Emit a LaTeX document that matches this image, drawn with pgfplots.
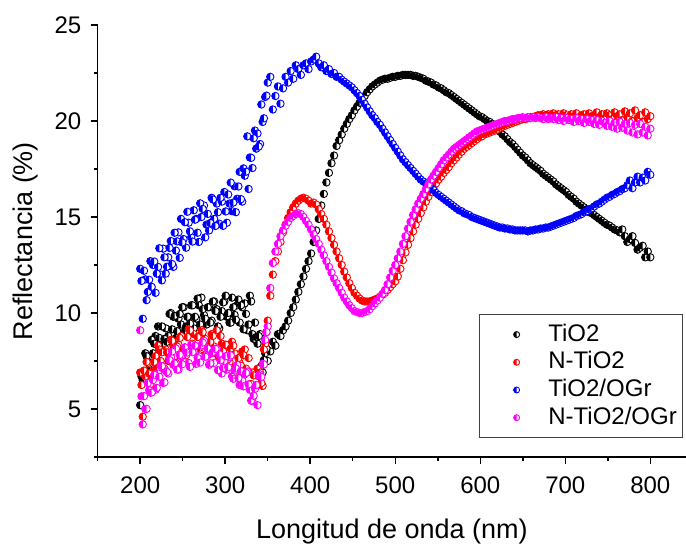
\documentclass[border=0pt]{standalone}
\usepackage{fontspec}
\setmainfont{Liberation Sans}
\usepackage{pgfplots}
\pgfplotsset{compat=1.18}
\usepackage{pgfplotstable}

\pgfdeclareplotmark{lhc}{%
  \begin{pgfscope}%
  \pgfsetfillcolor{white}%
  \pgfpathcircle{\pgfpointorigin}{\pgfplotmarksize}%
  \pgfusepathqfill
  \end{pgfscope}%
  \pgfpathmoveto{\pgfqpoint{0pt}{\pgfplotmarksize}}%
  \pgfpatharc{90}{270}{\pgfplotmarksize}%
  \pgfpathclose
  \pgfusepathqfill
  \pgfpathcircle{\pgfpointorigin}{\pgfplotmarksize}%
  \pgfusepathqstroke
}

\pgfplotstableread{
x a b c d
200 5.2 6.9 12.3 9.1
203 6.5 4.6 9.7 4.2
206 7.9 6.7 11.75 5.0
209 7.7 7.4 11.1 6.35
212 7.2 6.3 12.7 5.85
215 7.9 7.0 12.5 6.5
218 8.8 7.75 11.05 6.0
221 9.3 8.3 12.4 6.85
224 8.6 7.5 12.0 7.25
227 8.3 7.1 13.35 6.35
230 9.2 8.1 12.05 7.0
233 8.8 7.5 12.9 6.85
236 10.0 8.6 13.75 7.7
239 9.8 8.3 12.4 7.3
242 8.7 7.4 13.25 8.15
245 9.7 8.35 14.2 7.05
248 9.4 8.8 14.9 7.75
251 10.3 8.05 13.85 7.45
254 9.3 7.8 13.4 8.0
257 9.8 9.15 14.7 7.4
260 10.4 8.3 13.95 8.35
263 9.2 8.9 15.35 8.0
266 9.7 8.0 14.9 7.35
269 10.4 8.8 13.7 7.75
272 10.8 9.1 15.0 8.3
275 9.9 7.8 15.6 8.55
278 9.4 8.45 14.6 7.75
281 10.3 8.0 14.3 7.3
284 9.6 8.9 16.0 7.9
287 10.6 8.25 14.9 7.4
290 10.2 9.1 15.7 8.15
293 9.2 7.65 14.65 7.85
296 10.1 8.4 15.8 6.85
299 10.6 7.8 16.3 7.5
302 9.8 8.3 14.7 7.05
305 9.5 7.45 15.7 7.7
308 10.8 8.5 15.3 6.7
311 9.9 7.9 16.6 7.0
314 10.4 7.0 15.95 7.3
317 9.5 7.4 17.35 6.25
320 10.3 8.0 15.8 6.5
323 10.5 8.1 17.15 6.8
326 9.1 7.0 19.2 6.95
329 10.9 6.3 18.1 6.0
332 8.9 6.9 17.55 5.4
335 9.5 6.1 19.5 6.05
338 8.4 7.1 19.35 5.2
341 8.9 6.9 18.8 6.8
344 6.9 6.2 19.95 7.35
347 7.9 8.4 21.25 8.6
350 7.5 9.6 22.0 9.3
353 8.0 10.9 22.3 11.3
356 8.5 12.0 20.6 12.6
359 8.3 12.7 21.3 13.2
362 8.9 13.2 21.8 13.6
365 8.8 13.7 20.9 14.0
368 9.1 14.2 21.7 14.3
371 9.3 14.6 22.3 14.55
374 9.6 14.95 22.0 14.75
377 10.0 15.25 22.6 14.95
380 10.3 15.5 22.2 15.05
383 10.7 15.7 22.9 15.15
386 11.1 15.85 22.7 15.2
389 11.5 15.95 22.4 15.15
392 11.9 16.0 22.9 15.0
395 12.3 15.95 23.0 14.8
398 12.7 15.85 22.7 14.6
401 13.1 15.7 23.1 14.35
404 13.7 15.75 23.2 14.1
407 14.3 15.65 23.35 13.85
410 14.9 15.4 23.0 13.6
413 15.6 15.15 22.8 13.3
416 16.2 14.9 22.9 13.0
419 16.8 14.6 22.6 12.7
422 17.3 14.25 22.7 12.4
425 17.8 13.9 22.45 12.1
428 18.2 13.55 22.5 11.8
431 18.7 13.2 22.3 11.55
434 19.0 12.85 22.3 11.3
437 19.3 12.5 22.15 11.05
440 19.6 12.15 22.05 10.8
443 19.85 11.85 21.95 10.6
446 20.1 11.55 21.85 10.4
449 20.3 11.3 21.75 10.25
452 20.55 11.05 21.6 10.1
455 20.75 10.9 21.45 10.05
458 20.95 10.75 21.3 10.0
461 21.15 10.65 21.1 10.0
464 21.3 10.6 20.9 10.05
467 21.5 10.6 20.7 10.1
470 21.65 10.6 20.5 10.2
473 21.8 10.65 20.3 10.35
476 21.9 10.7 20.15 10.5
479 22.0 10.75 19.95 10.65
482 22.1 10.85 19.8 10.8
485 22.15 10.95 19.6 11.0
488 22.2 11.05 19.4 11.2
491 22.2 11.2 19.2 11.5
494 22.25 11.35 19.0 11.85
497 22.3 11.5 18.8 12.2
500 22.3 11.65 18.6 12.5
503 22.35 11.9 18.4 12.85
506 22.35 12.3 18.2 13.2
509 22.4 12.75 18.0 13.6
512 22.4 13.15 17.85 14.0
515 22.4 13.55 17.7 14.4
518 22.4 13.9 17.55 14.75
521 22.35 14.25 17.4 15.1
524 22.35 14.6 17.25 15.4
527 22.3 14.9 17.1 15.7
530 22.25 15.2 16.95 15.95
533 22.2 15.5 16.85 16.2
536 22.1 15.8 16.75 16.45
539 22.05 16.05 16.6 16.7
542 22.0 16.3 16.5 16.95
545 21.9 16.5 16.4 17.15
548 21.85 16.75 16.25 17.35
551 21.75 16.95 16.15 17.55
554 21.7 17.1 16.05 17.75
557 21.6 17.3 15.95 17.95
560 21.5 17.45 15.85 18.1
563 21.45 17.6 15.75 18.25
566 21.35 17.8 15.65 18.4
569 21.25 17.95 15.55 18.55
572 21.15 18.1 15.45 18.65
575 21.05 18.25 15.35 18.75
578 20.95 18.4 15.3 18.85
581 20.85 18.55 15.2 18.95
584 20.75 18.65 15.15 19.05
587 20.65 18.75 15.1 19.15
590 20.55 18.85 15.0 19.25
593 20.45 18.95 14.95 19.35
596 20.35 19.05 14.9 19.45
599 20.25 19.15 14.85 19.5
602 20.2 19.2 14.8 19.55
605 20.1 19.3 14.75 19.6
608 20.0 19.35 14.7 19.65
611 19.95 19.4 14.65 19.7
614 19.85 19.45 14.6 19.75
617 19.7 19.5 14.55 19.8
620 19.6 19.55 14.5 19.85
623 19.45 19.65 14.45 19.9
626 19.3 19.7 14.45 19.95
629 19.2 19.75 14.4 20.0
632 19.05 19.8 14.4 20.0
635 18.9 19.85 14.35 20.05
638 18.8 19.9 14.35 20.1
641 18.65 19.95 14.3 20.1
644 18.5 20.0 14.3 20.15
647 18.35 20.05 14.3 20.15
650 18.2 20.1 14.3 20.2
653 18.1 20.1 14.3 20.15
656 17.95 20.15 14.25 20.2
659 17.8 20.2 14.3 20.15
662 17.7 20.2 14.3 20.2
665 17.6 20.25 14.35 20.15
668 17.5 20.3 14.35 20.2
671 17.4 20.3 14.4 20.15
674 17.25 20.35 14.4 20.1
677 17.15 20.3 14.45 20.2
680 17.05 20.35 14.45 20.1
683 16.95 20.3 14.5 20.15
686 16.85 20.4 14.55 20.1
689 16.7 20.3 14.6 20.2
692 16.6 20.35 14.65 20.05
695 16.5 20.25 14.7 20.15
698 16.4 20.4 14.75 20.0
701 16.3 20.3 14.8 20.15
704 16.15 20.2 14.85 20.05
707 16.05 20.35 14.9 20.1
710 15.95 20.25 14.95 19.95
713 15.8 20.4 15.05 20.15
716 15.7 20.2 15.1 20.0
719 15.6 20.3 15.15 20.1
722 15.5 20.35 15.25 19.9
725 15.4 20.2 15.3 20.1
728 15.25 20.4 15.4 19.95
731 15.2 20.25 15.45 20.05
734 15.1 20.3 15.55 19.85
737 15.0 20.45 15.65 20.05
740 14.9 20.2 15.7 19.8
743 14.8 20.35 15.8 20.0
746 14.7 20.15 15.9 19.9
749 14.6 20.4 16.0 19.75
752 14.55 20.3 16.05 20.0
755 14.45 20.1 16.15 19.7
758 14.35 20.45 16.2 19.9
761 14.3 20.25 16.3 19.6
764 14.2 20.35 16.35 19.95
767 14.35 20.05 16.45 19.65
770 14.0 20.5 16.5 19.85
773 13.7 20.2 16.65 19.5
776 13.85 20.4 16.9 19.9
779 14.0 20.0 16.5 19.4
782 13.65 20.55 16.8 19.8
785 13.3 20.15 17.1 19.3
788 13.4 20.3 16.8 19.85
791 13.5 19.95 17.05 19.4
794 12.9 20.45 16.9 19.7
797 13.2 20.1 17.35 19.25
800 12.9 20.25 17.2 19.6
}\data

% extra readings in the noisy UV region (between the rows above)
\pgfplotstableread{
x a b c d
201.5 6.7 6.25 11.67 5.66
204.5 6.55 7.0 12.2 5.67
207.5 7.75 7.45 10.67 5.01
210.5 7.35 6.85 11.73 5.98
213.5 8.6 6.6 11.36 5.86
216.5 8.4 7.45 12.68 6.78
219.5 7.6 7.1 12.05 6.1
222.5 8.7 8.1 13.37 6.68
225.5 9.3 7.95 11.7 7.23
228.5 8.65 7.1 12.9 6.39
231.5 8.5 7.95 12.41 6.92
234.5 9.95 7.7 13.39 7.55
237.5 9.15 8.55 12.55 7.99
240.5 9.85 7.75 14.18 7.37
243.5 9.05 8.25 13.73 7.05
246.5 9.95 8.7 12.87 7.82
249.5 10.3 7.75 13.67 7.33
252.5 9.05 8.2 14.73 8.21
255.5 9.8 8.75 15.27 7.94
258.5 9.45 9.1 14.25 7.19
261.5 10.4 8.4 13.72 7.96
264.5 9.8 8.0 14.86 8.3
267.5 10.75 8.75 14.18 7.66
270.5 9.4 8.2 15.71 7.42
273.5 10.2 9.0 15.42 8.46
276.5 9.7 8.65 13.94 7.72
279.5 10.3 7.8 15.16 8.15
282.5 9.5 8.5 14.69 7.38
285.5 10.6 8.8 15.91 7.97
288.5 10.1 8.1 14.53 8.13
291.5 9.3 7.8 15.25 7.02
294.5 9.8 8.8 16.0 7.53
297.5 10.55 8.0 14.54 7.13
300.5 10.9 8.35 15.29 7.75
303.5 10.0 7.6 16.17 7.17
306.5 9.5 8.15 16.79 7.79
309.5 10.3 8.3 15.75 6.57
312.5 9.65 7.2 15.25 7.11
315.5 10.7 7.65 16.59 6.61
318.5 10.4 7.25 15.93 6.97
321.5 9.15 7.8 17.53 6.18
324.5 9.95 7.1 17.36 6.88
327.5 9.4 7.65 16.46 6.28
330.5 10.6 6.3 18.08 5.44
333.5 8.65 6.75 19.1 5.69
336.5 8.75 6.2 18.56 6.25
339.5 8.8 6.7 18.67 6.74
342.5 7.25 6.35 20.86 6.67
345.5 7.55 8.1 20.14 7.32
348.5 8.15 9.0 21.32 9.01
}\extra

\definecolor{mkred}{RGB}{255,0,0}
\definecolor{mkblue}{RGB}{0,0,255}
\definecolor{mkmag}{RGB}{255,0,255}

\begin{document}
\begin{tikzpicture}
\useasboundingbox (-48.85pt,-43.5pt) rectangle (294.15pt,228.5pt);
\begin{axis}[
  at={(0pt,0pt)}, anchor=south west,
  scale only axis, width=294.15pt, height=216pt,
  xmin=150, xmax=842, ymin=2.5, ymax=25,
  axis lines*=left,
  axis line style={line width=0.75pt, black},
  xtick={200,300,...,800}, ytick={5,10,...,25},
  minor xtick={150,250,...,750}, minor ytick={2.5,7.5,12.5,17.5,22.5},
  tick align=outside,
  major tick length=3.5pt, minor tick length=2pt,
  tick style={line width=0.75pt, black},
  /pgf/number format/assume math mode=true,
  tick label style={font=\fontsize{12}{14}\selectfont},
  yticklabel style={anchor=east, inner sep=0pt, xshift=-4.5pt},
  xticklabel style={anchor=north, inner sep=0pt, yshift=-6pt},
  xlabel={Longitud de onda (nm)},
  ylabel={Reflectancia (\%)},
  label style={font=\fontsize{13.5}{16}\selectfont},
  xlabel style={at={([yshift=-41pt]axis description cs:0.5,0)}, anchor=base, inner sep=0pt},
  ylabel style={at={([xshift=-32.5pt]axis description cs:0,0.5)}, anchor=base, inner sep=0pt},
  legend style={at={(0.9954,0.0433)}, anchor=south east, draw=black!75, line width=0.5pt,
    inner xsep=2pt, inner ysep=3.3pt, font=\fontsize{12}{14}\selectfont,
    nodes={inner sep=1pt, text height=9pt, text depth=2.5pt},
    row sep=0.35pt, cells={anchor=west}},
  legend image code/.code={\path (0pt,0pt) (30.85pt,0pt); \draw[#1, only marks, mark size=1.5pt] plot coordinates {(16.2pt,0pt)};},
  every axis plot/.append style={only marks, mark=lhc, mark size=1.85pt, line width=0.45pt},
]
\addplot[color=black] table[x=x,y=a]{\data};
\addplot[color=black, forget plot] table[x=x,y=a]{\extra};
\addplot[color=mkred] table[x=x,y=b]{\data};
\addplot[color=mkred, forget plot] table[x=x,y=b]{\extra};
\addplot[color=mkblue] table[x=x,y=c]{\data};
\addplot[color=mkblue, forget plot] table[x=x,y=c]{\extra};
\addplot[color=mkmag] table[x=x,y=d]{\data};
\addplot[color=mkmag, forget plot] table[x=x,y=d]{\extra};
\legend{TiO2, N-TiO2, TiO2/OGr, N-TiO2/OGr}
\end{axis}
\end{tikzpicture}
\end{document}
